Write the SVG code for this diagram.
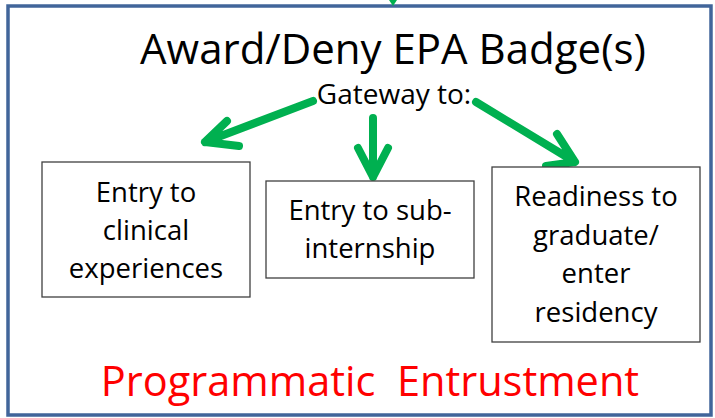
<svg xmlns="http://www.w3.org/2000/svg" width="715" height="418" viewBox="0 0 715 418">
<style>
text{font-family:"Open Sans","Liberation Sans",sans-serif;text-anchor:middle;fill:#000}
.box{fill:#fff;stroke:#404040;stroke-width:1.3}
.lbl{font-size:27.5px}
.arr{fill:none;stroke:#00B050;stroke-width:8;stroke-linecap:round;stroke-linejoin:round}
</style>
<rect x="0" y="0" width="715" height="418" fill="#fff"/>
<rect x="8" y="6" width="703" height="409" fill="#fff" stroke="#41659A" stroke-width="3.5"/>
<polygon points="389,0 397,0 393,6" fill="#00B050"/>
<text x="393" y="64" font-size="42">Award/Deny EPA Badge(s)</text>
<text x="394" y="104" font-size="28">Gateway to:</text>
<g id="connectors">
<path class="arr" d="M313,101 L205,142 M227,121 L205,142 L239,146"/>
<path class="arr" d="M373,118 L373,177 M358,148 L373,177 L388,148"/>
<path class="arr" d="M476,102 L575,162 M557,134 L575,162 L546,166"/>
</g>
<g id="node1">
<rect class="box" x="42" y="162" width="208" height="135"/>
<text class="lbl" x="146" y="202">Entry to</text>
<text class="lbl" x="146" y="240">clinical</text>
<text class="lbl" x="146" y="278">experiences</text>
</g>
<g id="node2">
<rect class="box" x="266" y="181" width="208" height="97"/>
<text class="lbl" x="370" y="220">Entry to sub-</text>
<text class="lbl" x="370" y="258">internship</text>
</g>
<g id="node3">
<rect class="box" x="492" y="167" width="208" height="175"/>
<text class="lbl" x="596" y="206">Readiness to</text>
<text class="lbl" x="596" y="245">graduate/</text>
<text class="lbl" x="596" y="283">enter</text>
<text class="lbl" x="596" y="322">residency</text>
</g>
<text x="370" y="396" font-size="41.5" fill="#FF0000" style="fill:#FF0000;white-space:pre" xml:space="preserve">Programmatic  Entrustment</text>
</svg>
